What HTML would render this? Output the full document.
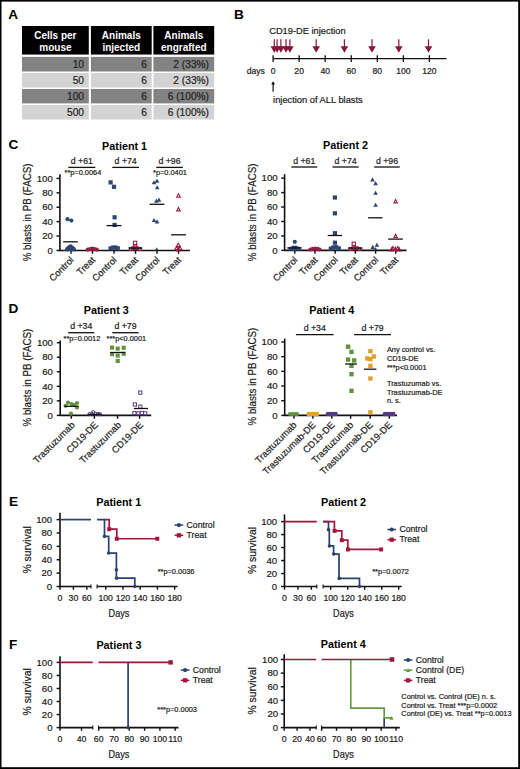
<!DOCTYPE html>
<html><head><meta charset="utf-8"><title>Figure</title>
<style>
html,body{margin:0;padding:0;background:#fff;}
body{width:520px;height:769px;overflow:hidden;}
svg{display:block;font-family:"Liberation Sans", sans-serif;}
</style></head><body>
<svg width="520" height="769" viewBox="0 0 520 769" fill="#1a1a1a">
<rect x="0" y="0" width="520" height="769" fill="#fff"/>
<rect x="0" y="0" width="520" height="1.6" fill="#000"/>
<rect x="0" y="767.2" width="520" height="1.8" fill="#000"/>
<rect x="0" y="0" width="1.5" height="769" fill="#000"/>
<rect x="518.2" y="0" width="1.8" height="769" fill="#000"/>
<text x="8.3" y="18.8" font-size="13.6" font-weight="bold" fill="#000">A</text>
<text x="234" y="18.8" font-size="13.6" font-weight="bold" fill="#000">B</text>
<text x="8.4" y="149.2" font-size="13.6" font-weight="bold" fill="#000">C</text>
<text x="8.5" y="312.8" font-size="13.6" font-weight="bold" fill="#000">D</text>
<text x="8.9" y="506.3" font-size="13.6" font-weight="bold" fill="#000">E</text>
<text x="9.1" y="648.8" font-size="13.6" font-weight="bold" fill="#000">F</text>
<rect x="22" y="26" width="66.8" height="28.55" fill="#000"/>
<rect x="90.9" y="26" width="60.8" height="28.55" fill="#000"/>
<rect x="153.4" y="26" width="60.8" height="28.55" fill="#000"/>
<text x="55.4" y="38.7" font-size="10" text-anchor="middle" font-weight="bold" fill="#fff">Cells per</text>
<text x="55.4" y="50.5" font-size="10" text-anchor="middle" font-weight="bold" fill="#fff">mouse</text>
<text x="121.3" y="38.7" font-size="10" text-anchor="middle" font-weight="bold" fill="#fff">Animals</text>
<text x="121.3" y="50.5" font-size="10" text-anchor="middle" font-weight="bold" fill="#fff">injected</text>
<text x="183.8" y="38.7" font-size="10" text-anchor="middle" font-weight="bold" fill="#fff">Animals</text>
<text x="183.8" y="50.5" font-size="10" text-anchor="middle" font-weight="bold" fill="#fff">engrafted</text>
<rect x="22" y="56.9" width="66.8" height="14.6" fill="#838383"/>
<rect x="90.9" y="56.9" width="60.8" height="14.6" fill="#838383"/>
<rect x="153.4" y="56.9" width="60.8" height="14.6" fill="#838383"/>
<text x="84" y="67.6" font-size="10.2" text-anchor="end" fill="#222" stroke="#222" stroke-width="0.2">10</text>
<text x="147" y="67.6" font-size="10.2" text-anchor="end" fill="#222" stroke="#222" stroke-width="0.2">6</text>
<text x="209" y="67.6" font-size="10.2" text-anchor="end" fill="#222" stroke="#222" stroke-width="0.2">2 (33%)</text>
<rect x="22" y="73" width="66.8" height="14.5" fill="#d3d3d3"/>
<rect x="90.9" y="73" width="60.8" height="14.5" fill="#d3d3d3"/>
<rect x="153.4" y="73" width="60.8" height="14.5" fill="#d3d3d3"/>
<text x="84" y="83.6" font-size="10.2" text-anchor="end" fill="#222" stroke="#222" stroke-width="0.2">50</text>
<text x="147" y="83.6" font-size="10.2" text-anchor="end" fill="#222" stroke="#222" stroke-width="0.2">6</text>
<text x="209" y="83.6" font-size="10.2" text-anchor="end" fill="#222" stroke="#222" stroke-width="0.2">2 (33%)</text>
<rect x="22" y="89" width="66.8" height="14.4" fill="#838383"/>
<rect x="90.9" y="89" width="60.8" height="14.4" fill="#838383"/>
<rect x="153.4" y="89" width="60.8" height="14.4" fill="#838383"/>
<text x="84" y="99.5" font-size="10.2" text-anchor="end" fill="#222" stroke="#222" stroke-width="0.2">100</text>
<text x="147" y="99.5" font-size="10.2" text-anchor="end" fill="#222" stroke="#222" stroke-width="0.2">6</text>
<text x="209" y="99.5" font-size="10.2" text-anchor="end" fill="#222" stroke="#222" stroke-width="0.2">6 (100%)</text>
<rect x="22" y="105" width="66.8" height="14.5" fill="#d3d3d3"/>
<rect x="90.9" y="105" width="60.8" height="14.5" fill="#d3d3d3"/>
<rect x="153.4" y="105" width="60.8" height="14.5" fill="#d3d3d3"/>
<text x="84" y="115.6" font-size="10.2" text-anchor="end" fill="#222" stroke="#222" stroke-width="0.2">500</text>
<text x="147" y="115.6" font-size="10.2" text-anchor="end" fill="#222" stroke="#222" stroke-width="0.2">6</text>
<text x="209" y="115.6" font-size="10.2" text-anchor="end" fill="#222" stroke="#222" stroke-width="0.2">6 (100%)</text>
<text x="269.2" y="33.5" font-size="9.3" stroke="#1a1a1a" stroke-width="0.2">CD19-DE injection</text>
<line x1="273.1" y1="58.6" x2="446.5" y2="58.6" stroke="#111" stroke-width="1.4"/>
<line x1="273.1" y1="55.2" x2="273.1" y2="62.1" stroke="#111" stroke-width="1.3"/>
<text x="273.1" y="73.5" font-size="8.6" text-anchor="middle" stroke="#1a1a1a" stroke-width="0.2">0</text>
<line x1="299.15" y1="55.2" x2="299.15" y2="62.1" stroke="#111" stroke-width="1.3"/>
<text x="299.15" y="73.5" font-size="8.6" text-anchor="middle" stroke="#1a1a1a" stroke-width="0.2">20</text>
<line x1="325.2" y1="55.2" x2="325.2" y2="62.1" stroke="#111" stroke-width="1.3"/>
<text x="325.2" y="73.5" font-size="8.6" text-anchor="middle" stroke="#1a1a1a" stroke-width="0.2">40</text>
<line x1="351.25" y1="55.2" x2="351.25" y2="62.1" stroke="#111" stroke-width="1.3"/>
<text x="351.25" y="73.5" font-size="8.6" text-anchor="middle" stroke="#1a1a1a" stroke-width="0.2">60</text>
<line x1="377.3" y1="55.2" x2="377.3" y2="62.1" stroke="#111" stroke-width="1.3"/>
<text x="377.3" y="73.5" font-size="8.6" text-anchor="middle" stroke="#1a1a1a" stroke-width="0.2">80</text>
<line x1="403.35" y1="55.2" x2="403.35" y2="62.1" stroke="#111" stroke-width="1.3"/>
<text x="403.35" y="73.5" font-size="8.6" text-anchor="middle" stroke="#1a1a1a" stroke-width="0.2">100</text>
<line x1="429.4" y1="55.2" x2="429.4" y2="62.1" stroke="#111" stroke-width="1.3"/>
<text x="429.4" y="73.5" font-size="8.6" text-anchor="middle" stroke="#1a1a1a" stroke-width="0.2">120</text>
<text x="246.7" y="73.5" font-size="8.6" stroke="#1a1a1a" stroke-width="0.2">days</text>
<line x1="274.3" y1="39.3" x2="274.3" y2="47.5" stroke="#86163a" stroke-width="1.2"/>
<polygon points="270.5,46.3 278.1,46.3 274.3,52.7" fill="#86163a"/>
<line x1="277.1" y1="39.3" x2="277.1" y2="47.5" stroke="#86163a" stroke-width="1.2"/>
<polygon points="273.3,46.3 280.9,46.3 277.1,52.7" fill="#86163a"/>
<line x1="280.9" y1="39.3" x2="280.9" y2="47.5" stroke="#86163a" stroke-width="1.2"/>
<polygon points="277.1,46.3 284.7,46.3 280.9,52.7" fill="#86163a"/>
<line x1="286" y1="39.3" x2="286" y2="47.5" stroke="#86163a" stroke-width="1.2"/>
<polygon points="282.2,46.3 289.8,46.3 286,52.7" fill="#86163a"/>
<line x1="289.9" y1="39.3" x2="289.9" y2="47.5" stroke="#86163a" stroke-width="1.2"/>
<polygon points="286.1,46.3 293.7,46.3 289.9,52.7" fill="#86163a"/>
<line x1="316.2" y1="39.3" x2="316.2" y2="47.5" stroke="#86163a" stroke-width="1.2"/>
<polygon points="312.4,46.3 320,46.3 316.2,52.7" fill="#86163a"/>
<line x1="344.4" y1="39.3" x2="344.4" y2="47.5" stroke="#86163a" stroke-width="1.2"/>
<polygon points="340.6,46.3 348.2,46.3 344.4,52.7" fill="#86163a"/>
<line x1="372" y1="39.3" x2="372" y2="47.5" stroke="#86163a" stroke-width="1.2"/>
<polygon points="368.2,46.3 375.8,46.3 372,52.7" fill="#86163a"/>
<line x1="398.8" y1="39.3" x2="398.8" y2="47.5" stroke="#86163a" stroke-width="1.2"/>
<polygon points="395,46.3 402.6,46.3 398.8,52.7" fill="#86163a"/>
<line x1="428.5" y1="39.3" x2="428.5" y2="47.5" stroke="#86163a" stroke-width="1.2"/>
<polygon points="424.7,46.3 432.3,46.3 428.5,52.7" fill="#86163a"/>
<line x1="273.1" y1="84" x2="273.1" y2="91.8" stroke="#000" stroke-width="1.1"/>
<polygon points="271.2,84.6 275,84.6 273.1,81.2" fill="#000"/>
<text x="273.1" y="103.3" font-size="9.3" stroke="#1a1a1a" stroke-width="0.2">injection of ALL blasts</text>
<text x="124.6" y="149.5" font-size="10.8" text-anchor="middle" font-weight="bold" fill="#000">Patient 1</text>
<line x1="59.9" y1="174.2" x2="59.9" y2="251.15" stroke="#111" stroke-width="1.6"/>
<line x1="56.5" y1="250.45" x2="59.9" y2="250.45" stroke="#111" stroke-width="1.45"/>
<text x="52.8" y="253.65" font-size="9.6" text-anchor="end" stroke="#1a1a1a" stroke-width="0.2">0</text>
<line x1="56.5" y1="236.05" x2="59.9" y2="236.05" stroke="#111" stroke-width="1.45"/>
<text x="52.8" y="239.25" font-size="9.6" text-anchor="end" stroke="#1a1a1a" stroke-width="0.2">20</text>
<line x1="56.5" y1="221.65" x2="59.9" y2="221.65" stroke="#111" stroke-width="1.45"/>
<text x="52.8" y="224.85" font-size="9.6" text-anchor="end" stroke="#1a1a1a" stroke-width="0.2">40</text>
<line x1="56.5" y1="207.25" x2="59.9" y2="207.25" stroke="#111" stroke-width="1.45"/>
<text x="52.8" y="210.45" font-size="9.6" text-anchor="end" stroke="#1a1a1a" stroke-width="0.2">60</text>
<line x1="56.5" y1="192.85" x2="59.9" y2="192.85" stroke="#111" stroke-width="1.45"/>
<text x="52.8" y="196.05" font-size="9.6" text-anchor="end" stroke="#1a1a1a" stroke-width="0.2">80</text>
<line x1="56.5" y1="178.45" x2="59.9" y2="178.45" stroke="#111" stroke-width="1.45"/>
<text x="52.8" y="181.65" font-size="9.6" text-anchor="end" stroke="#1a1a1a" stroke-width="0.2">100</text>
<line x1="59.9" y1="250.45" x2="190" y2="250.45" stroke="#111" stroke-width="1.6"/>
<text x="30.9" y="212.4" font-size="11.2" text-anchor="middle" textLength="97.8" lengthAdjust="spacingAndGlyphs" transform="rotate(-90 30.9 212.4)" stroke="#1a1a1a" stroke-width="0.2">% blasts in PB (FACS)</text>
<line x1="68.3" y1="167.4" x2="95.3" y2="167.4" stroke="#111" stroke-width="1.3"/>
<text x="81.8" y="163.5" font-size="8.75" text-anchor="middle" stroke="#1a1a1a" stroke-width="0.2">d +61</text>
<line x1="112.3" y1="167.4" x2="139" y2="167.4" stroke="#111" stroke-width="1.3"/>
<text x="125.65" y="163.5" font-size="8.75" text-anchor="middle" stroke="#1a1a1a" stroke-width="0.2">d +74</text>
<line x1="156.2" y1="167.4" x2="182.8" y2="167.4" stroke="#111" stroke-width="1.3"/>
<text x="169.5" y="163.5" font-size="8.75" text-anchor="middle" stroke="#1a1a1a" stroke-width="0.2">d +96</text>
<text x="64.5" y="175.4" font-size="7.4" stroke="#1a1a1a" stroke-width="0.2">**p=0.0064</text>
<text x="153" y="175.4" font-size="7.4" stroke="#1a1a1a" stroke-width="0.2">*p=0.0401</text>
<text x="74.3" y="260.6" font-size="9.35" text-anchor="end" transform="rotate(-45 74.3 260.6)" stroke="#1a1a1a" stroke-width="0.2">Control</text>
<text x="95.8" y="260.6" font-size="9.35" text-anchor="end" transform="rotate(-45 95.8 260.6)" stroke="#1a1a1a" stroke-width="0.2">Treat</text>
<text x="117.3" y="260.6" font-size="9.35" text-anchor="end" transform="rotate(-45 117.3 260.6)" stroke="#1a1a1a" stroke-width="0.2">Control</text>
<text x="138.8" y="260.6" font-size="9.35" text-anchor="end" transform="rotate(-45 138.8 260.6)" stroke="#1a1a1a" stroke-width="0.2">Treat</text>
<text x="160.3" y="260.6" font-size="9.35" text-anchor="end" transform="rotate(-45 160.3 260.6)" stroke="#1a1a1a" stroke-width="0.2">Control</text>
<text x="181.8" y="260.6" font-size="9.35" text-anchor="end" transform="rotate(-45 181.8 260.6)" stroke="#1a1a1a" stroke-width="0.2">Treat</text>
<text x="345.5" y="149.4" font-size="10.8" text-anchor="middle" font-weight="bold" fill="#000">Patient 2</text>
<line x1="284.6" y1="174.2" x2="284.6" y2="251.05" stroke="#111" stroke-width="1.6"/>
<line x1="281.2" y1="250.35" x2="284.6" y2="250.35" stroke="#111" stroke-width="1.45"/>
<text x="277.6" y="253.55" font-size="9.6" text-anchor="end" stroke="#1a1a1a" stroke-width="0.2">0</text>
<line x1="281.2" y1="235.91" x2="284.6" y2="235.91" stroke="#111" stroke-width="1.45"/>
<text x="277.6" y="239.11" font-size="9.6" text-anchor="end" stroke="#1a1a1a" stroke-width="0.2">20</text>
<line x1="281.2" y1="221.47" x2="284.6" y2="221.47" stroke="#111" stroke-width="1.45"/>
<text x="277.6" y="224.67" font-size="9.6" text-anchor="end" stroke="#1a1a1a" stroke-width="0.2">40</text>
<line x1="281.2" y1="207.03" x2="284.6" y2="207.03" stroke="#111" stroke-width="1.45"/>
<text x="277.6" y="210.23" font-size="9.6" text-anchor="end" stroke="#1a1a1a" stroke-width="0.2">60</text>
<line x1="281.2" y1="192.59" x2="284.6" y2="192.59" stroke="#111" stroke-width="1.45"/>
<text x="277.6" y="195.79" font-size="9.6" text-anchor="end" stroke="#1a1a1a" stroke-width="0.2">80</text>
<line x1="281.2" y1="178.15" x2="284.6" y2="178.15" stroke="#111" stroke-width="1.45"/>
<text x="277.6" y="181.35" font-size="9.6" text-anchor="end" stroke="#1a1a1a" stroke-width="0.2">100</text>
<line x1="284.6" y1="250.35" x2="406.5" y2="250.35" stroke="#111" stroke-width="1.6"/>
<text x="255.9" y="212.3" font-size="11.2" text-anchor="middle" textLength="97.8" lengthAdjust="spacingAndGlyphs" transform="rotate(-90 255.9 212.3)" stroke="#1a1a1a" stroke-width="0.2">% blasts in PB (FACS)</text>
<line x1="291.3" y1="167" x2="317.2" y2="167" stroke="#111" stroke-width="1.3"/>
<text x="304.25" y="163.5" font-size="8.75" text-anchor="middle" stroke="#1a1a1a" stroke-width="0.2">d +61</text>
<line x1="332.5" y1="167" x2="358.6" y2="167" stroke="#111" stroke-width="1.3"/>
<text x="345.55" y="163.5" font-size="8.75" text-anchor="middle" stroke="#1a1a1a" stroke-width="0.2">d +74</text>
<line x1="374.2" y1="167" x2="399.8" y2="167" stroke="#111" stroke-width="1.3"/>
<text x="387" y="163.5" font-size="8.75" text-anchor="middle" stroke="#1a1a1a" stroke-width="0.2">d +96</text>
<text x="298.1" y="260.6" font-size="9.35" text-anchor="end" transform="rotate(-45 298.1 260.6)" stroke="#1a1a1a" stroke-width="0.2">Control</text>
<text x="318.3" y="260.6" font-size="9.35" text-anchor="end" transform="rotate(-45 318.3 260.6)" stroke="#1a1a1a" stroke-width="0.2">Treat</text>
<text x="338.5" y="260.6" font-size="9.35" text-anchor="end" transform="rotate(-45 338.5 260.6)" stroke="#1a1a1a" stroke-width="0.2">Control</text>
<text x="358.7" y="260.6" font-size="9.35" text-anchor="end" transform="rotate(-45 358.7 260.6)" stroke="#1a1a1a" stroke-width="0.2">Treat</text>
<text x="378.9" y="260.6" font-size="9.35" text-anchor="end" transform="rotate(-45 378.9 260.6)" stroke="#1a1a1a" stroke-width="0.2">Control</text>
<text x="399.1" y="260.6" font-size="9.35" text-anchor="end" transform="rotate(-45 399.1 260.6)" stroke="#1a1a1a" stroke-width="0.2">Treat</text>
<text x="106.3" y="313.5" font-size="10.8" text-anchor="middle" font-weight="bold" fill="#000">Patient 3</text>
<line x1="60.2" y1="340.4" x2="60.2" y2="416.1" stroke="#111" stroke-width="1.6"/>
<line x1="56.8" y1="415.4" x2="60.2" y2="415.4" stroke="#111" stroke-width="1.45"/>
<text x="52.9" y="418.6" font-size="9.6" text-anchor="end" stroke="#1a1a1a" stroke-width="0.2">0</text>
<line x1="56.8" y1="400.86" x2="60.2" y2="400.86" stroke="#111" stroke-width="1.45"/>
<text x="52.9" y="404.06" font-size="9.6" text-anchor="end" stroke="#1a1a1a" stroke-width="0.2">20</text>
<line x1="56.8" y1="386.32" x2="60.2" y2="386.32" stroke="#111" stroke-width="1.45"/>
<text x="52.9" y="389.52" font-size="9.6" text-anchor="end" stroke="#1a1a1a" stroke-width="0.2">40</text>
<line x1="56.8" y1="371.78" x2="60.2" y2="371.78" stroke="#111" stroke-width="1.45"/>
<text x="52.9" y="374.98" font-size="9.6" text-anchor="end" stroke="#1a1a1a" stroke-width="0.2">60</text>
<line x1="56.8" y1="357.24" x2="60.2" y2="357.24" stroke="#111" stroke-width="1.45"/>
<text x="52.9" y="360.44" font-size="9.6" text-anchor="end" stroke="#1a1a1a" stroke-width="0.2">80</text>
<line x1="56.8" y1="342.7" x2="60.2" y2="342.7" stroke="#111" stroke-width="1.45"/>
<text x="52.9" y="345.9" font-size="9.6" text-anchor="end" stroke="#1a1a1a" stroke-width="0.2">100</text>
<line x1="60.2" y1="415.4" x2="151.2" y2="415.4" stroke="#111" stroke-width="1.6"/>
<text x="30.9" y="377.6" font-size="11.2" text-anchor="middle" textLength="97.8" lengthAdjust="spacingAndGlyphs" transform="rotate(-90 30.9 377.6)" stroke="#1a1a1a" stroke-width="0.2">% blasts in PB (FACS)</text>
<line x1="68.1" y1="332.7" x2="94.4" y2="332.7" stroke="#111" stroke-width="1.3"/>
<text x="81.25" y="329" font-size="8.75" text-anchor="middle" stroke="#1a1a1a" stroke-width="0.2">d +34</text>
<line x1="112.3" y1="332.7" x2="138.7" y2="332.7" stroke="#111" stroke-width="1.3"/>
<text x="125.5" y="329" font-size="8.75" text-anchor="middle" stroke="#1a1a1a" stroke-width="0.2">d +79</text>
<text x="63.5" y="341.2" font-size="7.4" stroke="#1a1a1a" stroke-width="0.2">**p=0.0012</text>
<text x="106.5" y="341" font-size="7.4" stroke="#1a1a1a" stroke-width="0.2">***p&lt;0.0001</text>
<text x="75.4" y="425.6" font-size="9.35" text-anchor="end" transform="rotate(-45 75.4 425.6)" stroke="#1a1a1a" stroke-width="0.2">Trastuzumab</text>
<text x="98.5" y="425.6" font-size="9.35" text-anchor="end" transform="rotate(-45 98.5 425.6)" stroke="#1a1a1a" stroke-width="0.2">CD19-DE</text>
<text x="121.6" y="425.6" font-size="9.35" text-anchor="end" transform="rotate(-45 121.6 425.6)" stroke="#1a1a1a" stroke-width="0.2">Trastuzumab</text>
<text x="143.7" y="425.6" font-size="9.35" text-anchor="end" transform="rotate(-45 143.7 425.6)" stroke="#1a1a1a" stroke-width="0.2">CD19-DE</text>
<text x="331.7" y="313.5" font-size="10.8" text-anchor="middle" font-weight="bold" fill="#000">Patient 4</text>
<line x1="284.7" y1="338.6" x2="284.7" y2="416.1" stroke="#111" stroke-width="1.6"/>
<line x1="281.3" y1="415.4" x2="284.7" y2="415.4" stroke="#111" stroke-width="1.45"/>
<text x="277.6" y="418.6" font-size="9.6" text-anchor="end" stroke="#1a1a1a" stroke-width="0.2">0</text>
<line x1="281.3" y1="400.72" x2="284.7" y2="400.72" stroke="#111" stroke-width="1.45"/>
<text x="277.6" y="403.92" font-size="9.6" text-anchor="end" stroke="#1a1a1a" stroke-width="0.2">20</text>
<line x1="281.3" y1="386.04" x2="284.7" y2="386.04" stroke="#111" stroke-width="1.45"/>
<text x="277.6" y="389.24" font-size="9.6" text-anchor="end" stroke="#1a1a1a" stroke-width="0.2">40</text>
<line x1="281.3" y1="371.36" x2="284.7" y2="371.36" stroke="#111" stroke-width="1.45"/>
<text x="277.6" y="374.56" font-size="9.6" text-anchor="end" stroke="#1a1a1a" stroke-width="0.2">60</text>
<line x1="281.3" y1="356.68" x2="284.7" y2="356.68" stroke="#111" stroke-width="1.45"/>
<text x="277.6" y="359.88" font-size="9.6" text-anchor="end" stroke="#1a1a1a" stroke-width="0.2">80</text>
<line x1="281.3" y1="342" x2="284.7" y2="342" stroke="#111" stroke-width="1.45"/>
<text x="277.6" y="345.2" font-size="9.6" text-anchor="end" stroke="#1a1a1a" stroke-width="0.2">100</text>
<line x1="284.7" y1="415.4" x2="397" y2="415.4" stroke="#111" stroke-width="1.6"/>
<text x="255.9" y="376.6" font-size="11.2" text-anchor="middle" textLength="97.8" lengthAdjust="spacingAndGlyphs" transform="rotate(-90 255.9 376.6)" stroke="#1a1a1a" stroke-width="0.2">% blasts in PB (FACS)</text>
<line x1="295.9" y1="334.6" x2="333.6" y2="334.6" stroke="#111" stroke-width="1.3"/>
<text x="314.75" y="330.6" font-size="8.75" text-anchor="middle" stroke="#1a1a1a" stroke-width="0.2">d +34</text>
<line x1="354.1" y1="334.6" x2="391" y2="334.6" stroke="#111" stroke-width="1.3"/>
<text x="372.55" y="330.6" font-size="8.75" text-anchor="middle" stroke="#1a1a1a" stroke-width="0.2">d +79</text>
<text x="297.3" y="425.6" font-size="9.35" text-anchor="end" transform="rotate(-45 297.3 425.6)" stroke="#1a1a1a" stroke-width="0.2">Trastuzumab</text>
<text x="316.2" y="425.6" font-size="9.35" text-anchor="end" transform="rotate(-45 316.2 425.6)" stroke="#1a1a1a" stroke-width="0.2">Trastuzumab-DE</text>
<text x="335.1" y="425.6" font-size="9.35" text-anchor="end" transform="rotate(-45 335.1 425.6)" stroke="#1a1a1a" stroke-width="0.2">CD19-DE</text>
<text x="353.9" y="425.6" font-size="9.35" text-anchor="end" transform="rotate(-45 353.9 425.6)" stroke="#1a1a1a" stroke-width="0.2">Trastuzumab</text>
<text x="373.5" y="425.6" font-size="9.35" text-anchor="end" transform="rotate(-45 373.5 425.6)" stroke="#1a1a1a" stroke-width="0.2">Trastuzumab-DE</text>
<text x="392.6" y="425.6" font-size="9.35" text-anchor="end" transform="rotate(-45 392.6 425.6)" stroke="#1a1a1a" stroke-width="0.2">CD19-DE</text>
<text x="386.9" y="351.9" font-size="7.4" stroke="#1a1a1a" stroke-width="0.2">Any control vs.</text>
<text x="386.9" y="360.7" font-size="7.4" stroke="#1a1a1a" stroke-width="0.2">CD19-DE</text>
<text x="386.9" y="369.5" font-size="7.4" stroke="#1a1a1a" stroke-width="0.2">***p&lt;0.0001</text>
<text x="386.9" y="386" font-size="7.4" stroke="#1a1a1a" stroke-width="0.2">Trastuzumab vs.</text>
<text x="386.9" y="394.7" font-size="7.4" stroke="#1a1a1a" stroke-width="0.2">Trastuzumab-DE</text>
<text x="386.9" y="403.4" font-size="7.4" stroke="#1a1a1a" stroke-width="0.2">n. s.</text>
<text x="118.7" y="506.4" font-size="10.8" text-anchor="middle" font-weight="bold" fill="#000">Patient 1</text>
<line x1="60" y1="512.8" x2="60" y2="587.2" stroke="#111" stroke-width="1.6"/>
<line x1="56.6" y1="586.5" x2="60" y2="586.5" stroke="#111" stroke-width="1.45"/>
<text x="52.2" y="589.7" font-size="9.6" text-anchor="end" stroke="#1a1a1a" stroke-width="0.2">0</text>
<line x1="56.6" y1="573.12" x2="60" y2="573.12" stroke="#111" stroke-width="1.45"/>
<text x="52.2" y="576.32" font-size="9.6" text-anchor="end" stroke="#1a1a1a" stroke-width="0.2">20</text>
<line x1="56.6" y1="559.74" x2="60" y2="559.74" stroke="#111" stroke-width="1.45"/>
<text x="52.2" y="562.94" font-size="9.6" text-anchor="end" stroke="#1a1a1a" stroke-width="0.2">40</text>
<line x1="56.6" y1="546.36" x2="60" y2="546.36" stroke="#111" stroke-width="1.45"/>
<text x="52.2" y="549.56" font-size="9.6" text-anchor="end" stroke="#1a1a1a" stroke-width="0.2">60</text>
<line x1="56.6" y1="532.98" x2="60" y2="532.98" stroke="#111" stroke-width="1.45"/>
<text x="52.2" y="536.18" font-size="9.6" text-anchor="end" stroke="#1a1a1a" stroke-width="0.2">80</text>
<line x1="56.6" y1="519.6" x2="60" y2="519.6" stroke="#111" stroke-width="1.45"/>
<text x="52.2" y="522.8" font-size="9.6" text-anchor="end" stroke="#1a1a1a" stroke-width="0.2">100</text>
<line x1="60" y1="586.5" x2="91" y2="586.5" stroke="#111" stroke-width="1.6"/>
<line x1="91" y1="584.5" x2="91" y2="588.5" stroke="#111" stroke-width="1.1"/>
<line x1="97.1" y1="586.5" x2="177.5" y2="586.5" stroke="#111" stroke-width="1.6"/>
<line x1="97.1" y1="584.5" x2="97.1" y2="588.5" stroke="#111" stroke-width="1.1"/>
<line x1="60" y1="586.5" x2="60" y2="589.7" stroke="#111" stroke-width="1.4"/>
<text x="60" y="600.8" font-size="8.7" text-anchor="middle" stroke="#1a1a1a" stroke-width="0.2">0</text>
<line x1="73.41" y1="586.5" x2="73.41" y2="589.7" stroke="#111" stroke-width="1.4"/>
<text x="73.41" y="600.8" font-size="8.7" text-anchor="middle" stroke="#1a1a1a" stroke-width="0.2">30</text>
<line x1="86.82" y1="586.5" x2="86.82" y2="589.7" stroke="#111" stroke-width="1.4"/>
<text x="86.82" y="600.8" font-size="8.7" text-anchor="middle" stroke="#1a1a1a" stroke-width="0.2">60</text>
<line x1="105.7" y1="586.5" x2="105.7" y2="589.7" stroke="#111" stroke-width="1.4"/>
<text x="105.7" y="600.8" font-size="8.7" text-anchor="middle" stroke="#1a1a1a" stroke-width="0.2">100</text>
<line x1="122.94" y1="586.5" x2="122.94" y2="589.7" stroke="#111" stroke-width="1.4"/>
<text x="122.94" y="600.8" font-size="8.7" text-anchor="middle" stroke="#1a1a1a" stroke-width="0.2">120</text>
<line x1="140.18" y1="586.5" x2="140.18" y2="589.7" stroke="#111" stroke-width="1.4"/>
<text x="140.18" y="600.8" font-size="8.7" text-anchor="middle" stroke="#1a1a1a" stroke-width="0.2">140</text>
<line x1="157.42" y1="586.5" x2="157.42" y2="589.7" stroke="#111" stroke-width="1.4"/>
<text x="157.42" y="600.8" font-size="8.7" text-anchor="middle" stroke="#1a1a1a" stroke-width="0.2">160</text>
<line x1="174.66" y1="586.5" x2="174.66" y2="589.7" stroke="#111" stroke-width="1.4"/>
<text x="174.66" y="600.8" font-size="8.7" text-anchor="middle" stroke="#1a1a1a" stroke-width="0.2">180</text>
<text x="119" y="616.9" font-size="10.3" text-anchor="middle" textLength="20.8" lengthAdjust="spacingAndGlyphs" stroke="#1a1a1a" stroke-width="0.2">Days</text>
<text x="30.9" y="549.9" font-size="10.7" text-anchor="middle" textLength="47.2" lengthAdjust="spacingAndGlyphs" transform="rotate(-90 30.9 549.9)" stroke="#1a1a1a" stroke-width="0.2">% survival</text>
<polyline points="60,519.6 91,519.6" fill="none" stroke="#2b416f" stroke-width="1.7" stroke-linejoin="miter"/>
<polyline points="97.1,519.6 104.5,519.6 104.5,536.33 108.7,536.33 108.7,553.05 116.4,553.05 116.4,578.14 134.8,578.14 134.8,586.5" fill="none" stroke="#2b416f" stroke-width="1.7" stroke-linejoin="miter"/>
<polyline points="104.5,519.6 109.2,519.6 109.2,529.17 116.8,529.17 116.8,538.73 157.3,538.73" fill="none" stroke="#a3163c" stroke-width="1.7" stroke-linejoin="miter"/>
<circle cx="104.5" cy="536.33" r="1.8" fill="#2b416f"/>
<circle cx="108.7" cy="553.05" r="1.8" fill="#2b416f"/>
<circle cx="116.4" cy="569.77" r="1.8" fill="#2b416f"/>
<circle cx="116.6" cy="578.14" r="1.8" fill="#2b416f"/>
<circle cx="134.8" cy="586.5" r="1.8" fill="#2b416f"/>
<rect x="107.2" y="527.17" width="4" height="4" fill="#a3163c"/>
<rect x="114.8" y="536.73" width="4" height="4" fill="#a3163c"/>
<rect x="155.3" y="536.73" width="4" height="4" fill="#a3163c"/>
<line x1="174.6" y1="525.1" x2="183.2" y2="525.1" stroke="#2b416f" stroke-width="1.5"/>
<circle cx="178.9" cy="525.1" r="2.1" fill="#2b416f"/>
<text x="186.6" y="527.8" font-size="8.7" stroke="#1a1a1a" stroke-width="0.2">Control</text>
<line x1="174.6" y1="535.3" x2="183.2" y2="535.3" stroke="#a3163c" stroke-width="1.5"/>
<rect x="176.75" y="533.15" width="4.3" height="4.3" fill="#a3163c"/>
<text x="186.6" y="538" font-size="8.7" stroke="#1a1a1a" stroke-width="0.2">Treat</text>
<text x="157.7" y="574.2" font-size="7.4" stroke="#1a1a1a" stroke-width="0.2">**p=0.0036</text>
<text x="343.5" y="506.4" font-size="10.8" text-anchor="middle" font-weight="bold" fill="#000">Patient 2</text>
<line x1="284.5" y1="514.4" x2="284.5" y2="587.2" stroke="#111" stroke-width="1.6"/>
<line x1="281.1" y1="586.5" x2="284.5" y2="586.5" stroke="#111" stroke-width="1.45"/>
<text x="277.2" y="589.7" font-size="9.6" text-anchor="end" stroke="#1a1a1a" stroke-width="0.2">0</text>
<line x1="281.1" y1="573.52" x2="284.5" y2="573.52" stroke="#111" stroke-width="1.45"/>
<text x="277.2" y="576.72" font-size="9.6" text-anchor="end" stroke="#1a1a1a" stroke-width="0.2">20</text>
<line x1="281.1" y1="560.54" x2="284.5" y2="560.54" stroke="#111" stroke-width="1.45"/>
<text x="277.2" y="563.74" font-size="9.6" text-anchor="end" stroke="#1a1a1a" stroke-width="0.2">40</text>
<line x1="281.1" y1="547.56" x2="284.5" y2="547.56" stroke="#111" stroke-width="1.45"/>
<text x="277.2" y="550.76" font-size="9.6" text-anchor="end" stroke="#1a1a1a" stroke-width="0.2">60</text>
<line x1="281.1" y1="534.58" x2="284.5" y2="534.58" stroke="#111" stroke-width="1.45"/>
<text x="277.2" y="537.78" font-size="9.6" text-anchor="end" stroke="#1a1a1a" stroke-width="0.2">80</text>
<line x1="281.1" y1="521.6" x2="284.5" y2="521.6" stroke="#111" stroke-width="1.45"/>
<text x="277.2" y="524.8" font-size="9.6" text-anchor="end" stroke="#1a1a1a" stroke-width="0.2">100</text>
<line x1="284.5" y1="586.5" x2="316.8" y2="586.5" stroke="#111" stroke-width="1.6"/>
<line x1="316.8" y1="584.5" x2="316.8" y2="588.5" stroke="#111" stroke-width="1.1"/>
<line x1="323.1" y1="586.5" x2="401.7" y2="586.5" stroke="#111" stroke-width="1.6"/>
<line x1="323.1" y1="584.5" x2="323.1" y2="588.5" stroke="#111" stroke-width="1.1"/>
<line x1="284.5" y1="586.5" x2="284.5" y2="589.7" stroke="#111" stroke-width="1.4"/>
<text x="284.5" y="600.8" font-size="8.7" text-anchor="middle" stroke="#1a1a1a" stroke-width="0.2">0</text>
<line x1="297.91" y1="586.5" x2="297.91" y2="589.7" stroke="#111" stroke-width="1.4"/>
<text x="297.91" y="600.8" font-size="8.7" text-anchor="middle" stroke="#1a1a1a" stroke-width="0.2">30</text>
<line x1="311.32" y1="586.5" x2="311.32" y2="589.7" stroke="#111" stroke-width="1.4"/>
<text x="311.32" y="600.8" font-size="8.7" text-anchor="middle" stroke="#1a1a1a" stroke-width="0.2">60</text>
<line x1="330.7" y1="586.5" x2="330.7" y2="589.7" stroke="#111" stroke-width="1.4"/>
<text x="330.7" y="600.8" font-size="8.7" text-anchor="middle" stroke="#1a1a1a" stroke-width="0.2">100</text>
<line x1="347.7" y1="586.5" x2="347.7" y2="589.7" stroke="#111" stroke-width="1.4"/>
<text x="347.7" y="600.8" font-size="8.7" text-anchor="middle" stroke="#1a1a1a" stroke-width="0.2">120</text>
<line x1="364.7" y1="586.5" x2="364.7" y2="589.7" stroke="#111" stroke-width="1.4"/>
<text x="364.7" y="600.8" font-size="8.7" text-anchor="middle" stroke="#1a1a1a" stroke-width="0.2">140</text>
<line x1="381.7" y1="586.5" x2="381.7" y2="589.7" stroke="#111" stroke-width="1.4"/>
<text x="381.7" y="600.8" font-size="8.7" text-anchor="middle" stroke="#1a1a1a" stroke-width="0.2">160</text>
<line x1="398.7" y1="586.5" x2="398.7" y2="589.7" stroke="#111" stroke-width="1.4"/>
<text x="398.7" y="600.8" font-size="8.7" text-anchor="middle" stroke="#1a1a1a" stroke-width="0.2">180</text>
<text x="343.5" y="616.9" font-size="10.3" text-anchor="middle" textLength="20.8" lengthAdjust="spacingAndGlyphs" stroke="#1a1a1a" stroke-width="0.2">Days</text>
<text x="256.4" y="550.5" font-size="10.7" text-anchor="middle" textLength="47.2" lengthAdjust="spacingAndGlyphs" transform="rotate(-90 256.4 550.5)" stroke="#1a1a1a" stroke-width="0.2">% survival</text>
<polyline points="284.5,521.6 316.8,521.6" fill="none" stroke="#a3163c" stroke-width="1.7" stroke-linejoin="miter"/>
<polyline points="323.1,521.6 328.5,521.6 328.5,529.71 329.3,529.71 329.3,545.94 333.6,545.94 333.6,554.05 339,554.05 339,578.39 359.5,578.39 359.5,586.5" fill="none" stroke="#2b416f" stroke-width="1.7" stroke-linejoin="miter"/>
<polyline points="323.1,521.6 334.4,521.6 334.4,530.88 341.8,530.88 341.8,540.16 347.8,540.16 347.8,549.44 381.1,549.44" fill="none" stroke="#a3163c" stroke-width="1.7" stroke-linejoin="miter"/>
<circle cx="328.5" cy="529.71" r="1.8" fill="#2b416f"/>
<circle cx="329.5" cy="545.94" r="1.8" fill="#2b416f"/>
<circle cx="333.8" cy="554.05" r="1.8" fill="#2b416f"/>
<circle cx="339.2" cy="578.39" r="1.8" fill="#2b416f"/>
<circle cx="359.5" cy="586.5" r="1.8" fill="#2b416f"/>
<rect x="332.6" y="528.88" width="4" height="4" fill="#a3163c"/>
<rect x="339.8" y="538.16" width="4" height="4" fill="#a3163c"/>
<rect x="346" y="547.44" width="4" height="4" fill="#a3163c"/>
<rect x="379.1" y="547.44" width="4" height="4" fill="#a3163c"/>
<line x1="387.4" y1="529.5" x2="396" y2="529.5" stroke="#2b416f" stroke-width="1.5"/>
<circle cx="391.7" cy="529.5" r="2.1" fill="#2b416f"/>
<text x="399.4" y="532.2" font-size="8.7" stroke="#1a1a1a" stroke-width="0.2">Control</text>
<line x1="387.4" y1="539.7" x2="396" y2="539.7" stroke="#a3163c" stroke-width="1.5"/>
<rect x="389.55" y="537.55" width="4.3" height="4.3" fill="#a3163c"/>
<text x="399.4" y="542.4" font-size="8.7" stroke="#1a1a1a" stroke-width="0.2">Treat</text>
<text x="372.2" y="573.7" font-size="7.4" stroke="#1a1a1a" stroke-width="0.2">**p=0.0072</text>
<text x="118.9" y="649.2" font-size="10.8" text-anchor="middle" font-weight="bold" fill="#000">Patient 3</text>
<line x1="60" y1="656.2" x2="60" y2="728.3" stroke="#111" stroke-width="1.6"/>
<line x1="56.6" y1="727.6" x2="60" y2="727.6" stroke="#111" stroke-width="1.45"/>
<text x="52.5" y="730.8" font-size="9.6" text-anchor="end" stroke="#1a1a1a" stroke-width="0.2">0</text>
<line x1="56.6" y1="714.56" x2="60" y2="714.56" stroke="#111" stroke-width="1.45"/>
<text x="52.5" y="717.76" font-size="9.6" text-anchor="end" stroke="#1a1a1a" stroke-width="0.2">20</text>
<line x1="56.6" y1="701.52" x2="60" y2="701.52" stroke="#111" stroke-width="1.45"/>
<text x="52.5" y="704.72" font-size="9.6" text-anchor="end" stroke="#1a1a1a" stroke-width="0.2">40</text>
<line x1="56.6" y1="688.48" x2="60" y2="688.48" stroke="#111" stroke-width="1.45"/>
<text x="52.5" y="691.68" font-size="9.6" text-anchor="end" stroke="#1a1a1a" stroke-width="0.2">60</text>
<line x1="56.6" y1="675.44" x2="60" y2="675.44" stroke="#111" stroke-width="1.45"/>
<text x="52.5" y="678.64" font-size="9.6" text-anchor="end" stroke="#1a1a1a" stroke-width="0.2">80</text>
<line x1="56.6" y1="662.4" x2="60" y2="662.4" stroke="#111" stroke-width="1.45"/>
<text x="52.5" y="665.6" font-size="9.6" text-anchor="end" stroke="#1a1a1a" stroke-width="0.2">100</text>
<line x1="60" y1="727.6" x2="92.8" y2="727.6" stroke="#111" stroke-width="1.6"/>
<line x1="92.8" y1="725.6" x2="92.8" y2="729.6" stroke="#111" stroke-width="1.1"/>
<line x1="98.5" y1="727.6" x2="178.5" y2="727.6" stroke="#111" stroke-width="1.6"/>
<line x1="98.5" y1="725.6" x2="98.5" y2="729.6" stroke="#111" stroke-width="1.1"/>
<line x1="60" y1="727.6" x2="60" y2="730.8" stroke="#111" stroke-width="1.4"/>
<text x="60" y="741.9" font-size="8.7" text-anchor="middle" stroke="#1a1a1a" stroke-width="0.2">0</text>
<line x1="81.52" y1="727.6" x2="81.52" y2="730.8" stroke="#111" stroke-width="1.4"/>
<text x="81.52" y="741.9" font-size="8.7" text-anchor="middle" stroke="#1a1a1a" stroke-width="0.2">40</text>
<line x1="98.7" y1="727.6" x2="98.7" y2="730.8" stroke="#111" stroke-width="1.4"/>
<text x="98.7" y="741.9" font-size="8.7" text-anchor="middle" stroke="#1a1a1a" stroke-width="0.2">60</text>
<line x1="114" y1="727.6" x2="114" y2="730.8" stroke="#111" stroke-width="1.4"/>
<text x="114" y="741.9" font-size="8.7" text-anchor="middle" stroke="#1a1a1a" stroke-width="0.2">70</text>
<line x1="129.3" y1="727.6" x2="129.3" y2="730.8" stroke="#111" stroke-width="1.4"/>
<text x="129.3" y="741.9" font-size="8.7" text-anchor="middle" stroke="#1a1a1a" stroke-width="0.2">80</text>
<line x1="144.6" y1="727.6" x2="144.6" y2="730.8" stroke="#111" stroke-width="1.4"/>
<text x="144.6" y="741.9" font-size="8.7" text-anchor="middle" stroke="#1a1a1a" stroke-width="0.2">90</text>
<line x1="159.9" y1="727.6" x2="159.9" y2="730.8" stroke="#111" stroke-width="1.4"/>
<text x="159.9" y="741.9" font-size="8.7" text-anchor="middle" stroke="#1a1a1a" stroke-width="0.2">100</text>
<line x1="175.2" y1="727.6" x2="175.2" y2="730.8" stroke="#111" stroke-width="1.4"/>
<text x="175.2" y="741.9" font-size="8.7" text-anchor="middle" stroke="#1a1a1a" stroke-width="0.2">110</text>
<text x="118.9" y="758" font-size="10.3" text-anchor="middle" textLength="20.8" lengthAdjust="spacingAndGlyphs" stroke="#1a1a1a" stroke-width="0.2">Days</text>
<text x="30.9" y="691.8" font-size="10.7" text-anchor="middle" textLength="47.2" lengthAdjust="spacingAndGlyphs" transform="rotate(-90 30.9 691.8)" stroke="#1a1a1a" stroke-width="0.2">% survival</text>
<polyline points="60,662.4 92.8,662.4" fill="none" stroke="#a3163c" stroke-width="1.7" stroke-linejoin="miter"/>
<polyline points="128.1,662.4 128.1,727.6" fill="none" stroke="#2b416f" stroke-width="1.7" stroke-linejoin="miter"/>
<polyline points="98.5,662.4 170.6,662.4" fill="none" stroke="#a3163c" stroke-width="1.7" stroke-linejoin="miter"/>
<circle cx="128.1" cy="727.6" r="1.8" fill="#2b416f"/>
<rect x="168.4" y="660.2" width="4.4" height="4.4" fill="#a3163c"/>
<line x1="180.8" y1="670.1" x2="189.4" y2="670.1" stroke="#2b416f" stroke-width="1.5"/>
<circle cx="185.1" cy="670.1" r="2.1" fill="#2b416f"/>
<text x="192.8" y="672.8" font-size="8.7" stroke="#1a1a1a" stroke-width="0.2">Control</text>
<line x1="180.8" y1="680.3" x2="189.4" y2="680.3" stroke="#a3163c" stroke-width="1.5"/>
<rect x="182.95" y="678.15" width="4.3" height="4.3" fill="#a3163c"/>
<text x="192.8" y="683" font-size="8.7" stroke="#1a1a1a" stroke-width="0.2">Treat</text>
<text x="157.3" y="712.3" font-size="7.4" stroke="#1a1a1a" stroke-width="0.2">***p=0.0003</text>
<text x="343.3" y="647.7" font-size="10.8" text-anchor="middle" font-weight="bold" fill="#000">Patient 4</text>
<line x1="284.2" y1="654.2" x2="284.2" y2="728.3" stroke="#111" stroke-width="1.6"/>
<line x1="280.8" y1="727.6" x2="284.2" y2="727.6" stroke="#111" stroke-width="1.45"/>
<text x="278.1" y="730.8" font-size="9.6" text-anchor="end" stroke="#1a1a1a" stroke-width="0.2">0</text>
<line x1="280.8" y1="713.98" x2="284.2" y2="713.98" stroke="#111" stroke-width="1.45"/>
<text x="278.1" y="717.18" font-size="9.6" text-anchor="end" stroke="#1a1a1a" stroke-width="0.2">20</text>
<line x1="280.8" y1="700.36" x2="284.2" y2="700.36" stroke="#111" stroke-width="1.45"/>
<text x="278.1" y="703.56" font-size="9.6" text-anchor="end" stroke="#1a1a1a" stroke-width="0.2">40</text>
<line x1="280.8" y1="686.74" x2="284.2" y2="686.74" stroke="#111" stroke-width="1.45"/>
<text x="278.1" y="689.94" font-size="9.6" text-anchor="end" stroke="#1a1a1a" stroke-width="0.2">60</text>
<line x1="280.8" y1="673.12" x2="284.2" y2="673.12" stroke="#111" stroke-width="1.45"/>
<text x="278.1" y="676.32" font-size="9.6" text-anchor="end" stroke="#1a1a1a" stroke-width="0.2">80</text>
<line x1="280.8" y1="659.5" x2="284.2" y2="659.5" stroke="#111" stroke-width="1.45"/>
<text x="278.1" y="662.7" font-size="9.6" text-anchor="end" stroke="#1a1a1a" stroke-width="0.2">100</text>
<line x1="284.2" y1="727.6" x2="316.2" y2="727.6" stroke="#111" stroke-width="1.6"/>
<line x1="316.2" y1="725.6" x2="316.2" y2="729.6" stroke="#111" stroke-width="1.1"/>
<line x1="321.6" y1="727.6" x2="399.8" y2="727.6" stroke="#111" stroke-width="1.6"/>
<line x1="321.6" y1="725.6" x2="321.6" y2="729.6" stroke="#111" stroke-width="1.1"/>
<line x1="284.2" y1="727.6" x2="284.2" y2="730.8" stroke="#111" stroke-width="1.4"/>
<text x="284.2" y="741.9" font-size="8.7" text-anchor="middle" stroke="#1a1a1a" stroke-width="0.2">0</text>
<line x1="297.1" y1="727.6" x2="297.1" y2="730.8" stroke="#111" stroke-width="1.4"/>
<text x="297.1" y="741.9" font-size="8.7" text-anchor="middle" stroke="#1a1a1a" stroke-width="0.2">20</text>
<line x1="310" y1="727.6" x2="310" y2="730.8" stroke="#111" stroke-width="1.4"/>
<text x="310" y="741.9" font-size="8.7" text-anchor="middle" stroke="#1a1a1a" stroke-width="0.2">40</text>
<line x1="321.6" y1="727.6" x2="321.6" y2="730.8" stroke="#111" stroke-width="1.4"/>
<text x="321.6" y="741.9" font-size="8.7" text-anchor="middle" stroke="#1a1a1a" stroke-width="0.2">60</text>
<line x1="336.5" y1="727.6" x2="336.5" y2="730.8" stroke="#111" stroke-width="1.4"/>
<text x="336.5" y="741.9" font-size="8.7" text-anchor="middle" stroke="#1a1a1a" stroke-width="0.2">70</text>
<line x1="351.4" y1="727.6" x2="351.4" y2="730.8" stroke="#111" stroke-width="1.4"/>
<text x="351.4" y="741.9" font-size="8.7" text-anchor="middle" stroke="#1a1a1a" stroke-width="0.2">80</text>
<line x1="366.3" y1="727.6" x2="366.3" y2="730.8" stroke="#111" stroke-width="1.4"/>
<text x="366.3" y="741.9" font-size="8.7" text-anchor="middle" stroke="#1a1a1a" stroke-width="0.2">90</text>
<line x1="381.2" y1="727.6" x2="381.2" y2="730.8" stroke="#111" stroke-width="1.4"/>
<text x="381.2" y="741.9" font-size="8.7" text-anchor="middle" stroke="#1a1a1a" stroke-width="0.2">100</text>
<line x1="396.1" y1="727.6" x2="396.1" y2="730.8" stroke="#111" stroke-width="1.4"/>
<text x="396.1" y="741.9" font-size="8.7" text-anchor="middle" stroke="#1a1a1a" stroke-width="0.2">110</text>
<text x="343.5" y="758" font-size="10.3" text-anchor="middle" textLength="20.8" lengthAdjust="spacingAndGlyphs" stroke="#1a1a1a" stroke-width="0.2">Days</text>
<text x="256.2" y="690.9" font-size="10.7" text-anchor="middle" textLength="47.2" lengthAdjust="spacingAndGlyphs" transform="rotate(-90 256.2 690.9)" stroke="#1a1a1a" stroke-width="0.2">% survival</text>
<polyline points="384.2,717.86 384.2,727.6" fill="none" stroke="#2b416f" stroke-width="1.7" stroke-linejoin="miter"/>
<polyline points="350.8,659.5 350.8,708.12 384.2,708.12 384.2,717.86 392.5,717.86" fill="none" stroke="#6a9c45" stroke-width="1.7" stroke-linejoin="miter"/>
<polygon points="391.5,715.97 393.6,719.75 389.4,719.75" fill="#6a9c45"/>
<polyline points="284.2,659.5 316.2,659.5" fill="none" stroke="#a3163c" stroke-width="1.7" stroke-linejoin="miter"/>
<polyline points="321.6,659.5 392,659.5" fill="none" stroke="#a3163c" stroke-width="1.7" stroke-linejoin="miter"/>
<rect x="389.7" y="657.2" width="4.6" height="4.6" fill="#a3163c"/>
<line x1="403.8" y1="660" x2="412.4" y2="660" stroke="#2b416f" stroke-width="1.5"/>
<circle cx="408.1" cy="660" r="2.1" fill="#2b416f"/>
<text x="415.8" y="662.7" font-size="8.7" stroke="#1a1a1a" stroke-width="0.2">Control</text>
<line x1="403.8" y1="670.2" x2="412.4" y2="670.2" stroke="#6a9c45" stroke-width="1.5"/>
<polygon points="408.1,668.31 410.2,672.09 406,672.09" fill="#6a9c45"/>
<text x="415.8" y="672.9" font-size="8.7" stroke="#1a1a1a" stroke-width="0.2">Control (DE)</text>
<line x1="403.8" y1="680.4" x2="412.4" y2="680.4" stroke="#a3163c" stroke-width="1.5"/>
<rect x="405.95" y="678.25" width="4.3" height="4.3" fill="#a3163c"/>
<text x="415.8" y="683.1" font-size="8.7" stroke="#1a1a1a" stroke-width="0.2">Treat</text>
<text x="401.3" y="698.8" font-size="7.4" stroke="#1a1a1a" stroke-width="0.2">Control vs. Control (DE) n. s.</text>
<text x="401.3" y="708" font-size="7.4" stroke="#1a1a1a" stroke-width="0.2">Control vs. Treat ***p=0.0002</text>
<text x="401.3" y="716.3" font-size="7.4" stroke="#1a1a1a" stroke-width="0.2">Control (DE) vs. Treat **p=0.0013</text>
<line x1="71" y1="250.45" x2="71" y2="253.85" stroke="#111" stroke-width="1.4"/>
<line x1="92.5" y1="250.45" x2="92.5" y2="253.85" stroke="#111" stroke-width="1.4"/>
<line x1="114" y1="250.45" x2="114" y2="253.85" stroke="#111" stroke-width="1.4"/>
<line x1="135.5" y1="250.45" x2="135.5" y2="253.85" stroke="#111" stroke-width="1.4"/>
<line x1="157" y1="250.45" x2="157" y2="253.85" stroke="#111" stroke-width="1.4"/>
<line x1="178.5" y1="250.45" x2="178.5" y2="253.85" stroke="#111" stroke-width="1.4"/>
<circle cx="67.5" cy="219.2" r="2.1" fill="#2d4573"/>
<circle cx="71.3" cy="220.6" r="2.1" fill="#2d4573"/>
<circle cx="70.5" cy="246.4" r="2.2" fill="#2d4573"/>
<circle cx="68.8" cy="247.8" r="2.2" fill="#2d4573"/>
<circle cx="72.2" cy="247.8" r="2.2" fill="#2d4573"/>
<circle cx="67.2" cy="249.2" r="2.2" fill="#2d4573"/>
<circle cx="73.8" cy="249.2" r="2.2" fill="#2d4573"/>
<circle cx="70.5" cy="249" r="2.2" fill="#2d4573"/>
<line x1="63.2" y1="241.8" x2="77.8" y2="241.8" stroke="#111" stroke-width="1.3"/>
<circle cx="87.8" cy="249.6" r="2.1" fill="#9c1b44"/>
<circle cx="90.2" cy="249" r="2.1" fill="#9c1b44"/>
<circle cx="92.3" cy="248.6" r="2.1" fill="#9c1b44"/>
<circle cx="94.5" cy="249" r="2.1" fill="#9c1b44"/>
<circle cx="96.7" cy="249.6" r="2.1" fill="#9c1b44"/>
<rect x="108.5" y="180.3" width="4.2" height="4.2" fill="#2d4573"/>
<rect x="111.9" y="184.7" width="4.2" height="4.2" fill="#2d4573"/>
<rect x="112.5" y="215.2" width="4.2" height="4.2" fill="#2d4573"/>
<rect x="112.5" y="222.9" width="4.2" height="4.2" fill="#2d4573"/>
<rect x="108.5" y="246.3" width="4.2" height="4.2" fill="#2d4573"/>
<rect x="111.1" y="245.5" width="4.2" height="4.2" fill="#2d4573"/>
<rect x="113.5" y="245.5" width="4.2" height="4.2" fill="#2d4573"/>
<rect x="115.7" y="246.3" width="4.2" height="4.2" fill="#2d4573"/>
<line x1="106.6" y1="225.6" x2="121.4" y2="225.6" stroke="#111" stroke-width="1.3"/>
<rect x="133.45" y="241.25" width="3.3" height="3.3" fill="none" stroke="#9c1b44" stroke-width="1.1"/>
<rect x="133.45" y="244.95" width="3.3" height="3.3" fill="none" stroke="#9c1b44" stroke-width="1.1"/>
<rect x="129.45" y="247.65" width="2.7" height="2.7" fill="none" stroke="#9c1b44" stroke-width="1.3"/>
<rect x="132.05" y="246.85" width="2.7" height="2.7" fill="none" stroke="#9c1b44" stroke-width="1.3"/>
<rect x="135.45" y="246.85" width="2.7" height="2.7" fill="none" stroke="#9c1b44" stroke-width="1.3"/>
<rect x="138.45" y="247.65" width="2.7" height="2.7" fill="none" stroke="#9c1b44" stroke-width="1.3"/>
<line x1="128.7" y1="248.1" x2="142.3" y2="248.1" stroke="#111" stroke-width="1.3"/>
<polygon points="154,180.23 156.3,184.37 151.7,184.37" fill="#2d4573"/>
<polygon points="157,178.53 159.3,182.67 154.7,182.67" fill="#2d4573"/>
<polygon points="157.2,185.13 159.5,189.27 154.9,189.27" fill="#2d4573"/>
<polygon points="156.4,198.53 158.7,202.67 154.1,202.67" fill="#2d4573"/>
<polygon points="159,197.53 161.3,201.67 156.7,201.67" fill="#2d4573"/>
<polygon points="154,217.93 156.3,222.07 151.7,222.07" fill="#2d4573"/>
<polygon points="157,219.33 159.3,223.47 154.7,223.47" fill="#2d4573"/>
<polygon points="156.7,247.36 158.3,250.24 155.1,250.24" fill="#2d4573"/>
<line x1="149.6" y1="204.3" x2="164.4" y2="204.3" stroke="#111" stroke-width="1.3"/>
<polygon points="178.5,193.78 180.28,197.23 176.72,197.23" fill="none" stroke="#9c1b44" stroke-width="1.1"/>
<polygon points="178.5,207.38 180.28,210.83 176.72,210.83" fill="none" stroke="#9c1b44" stroke-width="1.1"/>
<polygon points="178.2,243.08 179.97,246.53 176.42,246.53" fill="none" stroke="#9c1b44" stroke-width="1.1"/>
<polygon points="176.6,246.28 178.38,249.73 174.82,249.73" fill="none" stroke="#9c1b44" stroke-width="1.1"/>
<polygon points="180,246.28 181.78,249.73 178.22,249.73" fill="none" stroke="#9c1b44" stroke-width="1.1"/>
<polygon points="178.3,247.48 180.08,250.93 176.53,250.93" fill="none" stroke="#9c1b44" stroke-width="1.1"/>
<line x1="171.1" y1="234.8" x2="185.9" y2="234.8" stroke="#111" stroke-width="1.3"/>
<line x1="294.8" y1="250.35" x2="294.8" y2="253.75" stroke="#111" stroke-width="1.4"/>
<line x1="315" y1="250.35" x2="315" y2="253.75" stroke="#111" stroke-width="1.4"/>
<line x1="335.2" y1="250.35" x2="335.2" y2="253.75" stroke="#111" stroke-width="1.4"/>
<line x1="355.4" y1="250.35" x2="355.4" y2="253.75" stroke="#111" stroke-width="1.4"/>
<line x1="375.6" y1="250.35" x2="375.6" y2="253.75" stroke="#111" stroke-width="1.4"/>
<line x1="395.8" y1="250.35" x2="395.8" y2="253.75" stroke="#111" stroke-width="1.4"/>
<circle cx="294.8" cy="241.8" r="2.1" fill="#2d4573"/>
<circle cx="290.6" cy="249" r="2.2" fill="#2d4573"/>
<circle cx="293.2" cy="247.8" r="2.2" fill="#2d4573"/>
<circle cx="295.8" cy="247.6" r="2.2" fill="#2d4573"/>
<circle cx="298.6" cy="248.8" r="2.2" fill="#2d4573"/>
<circle cx="294.5" cy="249.2" r="2.2" fill="#2d4573"/>
<line x1="287.3" y1="247.9" x2="301.7" y2="247.9" stroke="#111" stroke-width="1.3"/>
<circle cx="310.4" cy="249.5" r="2.1" fill="#9c1b44"/>
<circle cx="312.8" cy="248.8" r="2.1" fill="#9c1b44"/>
<circle cx="315.2" cy="248.5" r="2.1" fill="#9c1b44"/>
<circle cx="317.6" cy="248.9" r="2.1" fill="#9c1b44"/>
<circle cx="319.6" cy="249.5" r="2.1" fill="#9c1b44"/>
<rect x="332.8" y="195.4" width="4.2" height="4.2" fill="#2d4573"/>
<rect x="332.8" y="211.2" width="4.2" height="4.2" fill="#2d4573"/>
<rect x="332.8" y="231.1" width="4.2" height="4.2" fill="#2d4573"/>
<rect x="332.8" y="240.6" width="4.2" height="4.2" fill="#2d4573"/>
<rect x="328.7" y="246.5" width="4.2" height="4.2" fill="#2d4573"/>
<rect x="331.3" y="245.3" width="4.2" height="4.2" fill="#2d4573"/>
<rect x="334.1" y="245.1" width="4.2" height="4.2" fill="#2d4573"/>
<rect x="336.7" y="246.3" width="4.2" height="4.2" fill="#2d4573"/>
<line x1="327.7" y1="235.5" x2="342.1" y2="235.5" stroke="#111" stroke-width="1.3"/>
<rect x="352.15" y="242.15" width="3.3" height="3.3" fill="none" stroke="#9c1b44" stroke-width="1.1"/>
<rect x="349.45" y="247.65" width="2.7" height="2.7" fill="none" stroke="#9c1b44" stroke-width="1.3"/>
<rect x="352.05" y="246.85" width="2.7" height="2.7" fill="none" stroke="#9c1b44" stroke-width="1.3"/>
<rect x="355.25" y="246.85" width="2.7" height="2.7" fill="none" stroke="#9c1b44" stroke-width="1.3"/>
<rect x="358.05" y="247.65" width="2.7" height="2.7" fill="none" stroke="#9c1b44" stroke-width="1.3"/>
<line x1="348.1" y1="248.1" x2="362.5" y2="248.1" stroke="#111" stroke-width="1.3"/>
<polygon points="372.5,177.33 374.8,181.47 370.2,181.47" fill="#2d4573"/>
<polygon points="375.6,181.03 377.9,185.17 373.3,185.17" fill="#2d4573"/>
<polygon points="375.6,190.73 377.9,194.87 373.3,194.87" fill="#2d4573"/>
<polygon points="375.6,202.73 377.9,206.87 373.3,206.87" fill="#2d4573"/>
<polygon points="372.8,244.83 375.1,248.97 370.5,248.97" fill="#2d4573"/>
<polygon points="376.9,242.73 379.2,246.87 374.6,246.87" fill="#2d4573"/>
<polygon points="375.6,247.07 377.3,250.13 373.9,250.13" fill="#2d4573"/>
<line x1="368.1" y1="217.8" x2="382.5" y2="217.8" stroke="#111" stroke-width="1.3"/>
<polygon points="395.6,199.57 397.28,202.84 393.93,202.84" fill="none" stroke="#9c1b44" stroke-width="1.1"/>
<polygon points="395.6,234.17 397.28,237.44 393.93,237.44" fill="none" stroke="#9c1b44" stroke-width="1.1"/>
<polygon points="393,246.38 394.68,249.64 391.32,249.64" fill="none" stroke="#9c1b44" stroke-width="1.1"/>
<polygon points="397.8,246.38 399.48,249.64 396.12,249.64" fill="none" stroke="#9c1b44" stroke-width="1.1"/>
<polygon points="395.4,247.17 397.07,250.44 393.72,250.44" fill="none" stroke="#9c1b44" stroke-width="1.1"/>
<polygon points="391.6,247.77 393.28,251.04 389.93,251.04" fill="none" stroke="#9c1b44" stroke-width="1.1"/>
<polygon points="399.2,247.77 400.88,251.04 397.52,251.04" fill="none" stroke="#9c1b44" stroke-width="1.1"/>
<line x1="388.2" y1="239.1" x2="402.8" y2="239.1" stroke="#111" stroke-width="1.3"/>
<line x1="71.3" y1="415.4" x2="71.3" y2="418.8" stroke="#111" stroke-width="1.4"/>
<line x1="94.4" y1="415.4" x2="94.4" y2="418.8" stroke="#111" stroke-width="1.4"/>
<line x1="117.5" y1="415.4" x2="117.5" y2="418.8" stroke="#111" stroke-width="1.4"/>
<line x1="139.6" y1="415.4" x2="139.6" y2="418.8" stroke="#111" stroke-width="1.4"/>
<circle cx="68" cy="402.6" r="2.1" fill="#629440"/>
<circle cx="71.6" cy="404" r="2.1" fill="#629440"/>
<circle cx="77" cy="403" r="2.1" fill="#629440"/>
<circle cx="65.6" cy="405.8" r="2.1" fill="#629440"/>
<circle cx="77" cy="407.6" r="2.1" fill="#629440"/>
<circle cx="71" cy="413.6" r="2.1" fill="#629440"/>
<circle cx="74" cy="405" r="2.1" fill="#629440"/>
<line x1="64.3" y1="406.3" x2="78.7" y2="406.3" stroke="#111" stroke-width="1.3"/>
<circle cx="89.5" cy="414" r="1.6" fill="none" stroke="#553a82" stroke-width="1"/>
<circle cx="92" cy="413.6" r="1.6" fill="none" stroke="#553a82" stroke-width="1"/>
<circle cx="93.3" cy="412.2" r="1.6" fill="none" stroke="#553a82" stroke-width="1"/>
<circle cx="95.5" cy="413.8" r="1.6" fill="none" stroke="#553a82" stroke-width="1"/>
<circle cx="98" cy="414" r="1.6" fill="none" stroke="#553a82" stroke-width="1"/>
<circle cx="100" cy="414.2" r="1.6" fill="none" stroke="#553a82" stroke-width="1"/>
<line x1="88" y1="414.4" x2="101.4" y2="414.4" stroke="#111" stroke-width="1.3"/>
<rect x="109.95" y="345.55" width="4.1" height="4.1" fill="#629440"/>
<rect x="115.65" y="346.55" width="4.1" height="4.1" fill="#629440"/>
<rect x="121.65" y="345.75" width="4.1" height="4.1" fill="#629440"/>
<rect x="109.95" y="352.15" width="4.1" height="4.1" fill="#629440"/>
<rect x="115.65" y="353.55" width="4.1" height="4.1" fill="#629440"/>
<rect x="121.65" y="351.75" width="4.1" height="4.1" fill="#629440"/>
<rect x="115.65" y="358.95" width="4.1" height="4.1" fill="#629440"/>
<line x1="110.2" y1="352.5" x2="125.4" y2="352.5" stroke="#111" stroke-width="1.3"/>
<rect x="138.7" y="391" width="3.2" height="3.2" fill="none" stroke="#553a82" stroke-width="1"/>
<rect x="133.3" y="402.9" width="3.2" height="3.2" fill="none" stroke="#553a82" stroke-width="1"/>
<rect x="138.7" y="405.1" width="3.2" height="3.2" fill="none" stroke="#553a82" stroke-width="1"/>
<rect x="132.8" y="411.6" width="3.2" height="3.2" fill="none" stroke="#553a82" stroke-width="1"/>
<rect x="136.8" y="411.8" width="3.2" height="3.2" fill="none" stroke="#553a82" stroke-width="1"/>
<rect x="140.2" y="411.4" width="3.2" height="3.2" fill="none" stroke="#553a82" stroke-width="1"/>
<rect x="143.6" y="411.8" width="3.2" height="3.2" fill="none" stroke="#553a82" stroke-width="1"/>
<line x1="134" y1="408.5" x2="148" y2="408.5" stroke="#111" stroke-width="1.3"/>
<line x1="294" y1="415.4" x2="294" y2="418.8" stroke="#111" stroke-width="1.4"/>
<line x1="312.9" y1="415.4" x2="312.9" y2="418.8" stroke="#111" stroke-width="1.4"/>
<line x1="331.8" y1="415.4" x2="331.8" y2="418.8" stroke="#111" stroke-width="1.4"/>
<line x1="350.6" y1="415.4" x2="350.6" y2="418.8" stroke="#111" stroke-width="1.4"/>
<line x1="370.2" y1="415.4" x2="370.2" y2="418.8" stroke="#111" stroke-width="1.4"/>
<line x1="389.3" y1="415.4" x2="389.3" y2="418.8" stroke="#111" stroke-width="1.4"/>
<circle cx="290" cy="414" r="2.1" fill="#629440"/>
<circle cx="292.6" cy="414" r="2.1" fill="#629440"/>
<circle cx="295.2" cy="414" r="2.1" fill="#629440"/>
<circle cx="297" cy="414" r="2.1" fill="#629440"/>
<rect x="306.8" y="412" width="4" height="4" fill="#e3a02d"/>
<rect x="309.6" y="412" width="4" height="4" fill="#e3a02d"/>
<rect x="312.4" y="412" width="4" height="4" fill="#e3a02d"/>
<rect x="314.8" y="412" width="4" height="4" fill="#e3a02d"/>
<circle cx="328" cy="414" r="2.3" fill="#553a82"/>
<circle cx="330.6" cy="414" r="2.3" fill="#553a82"/>
<circle cx="333.2" cy="414" r="2.3" fill="#553a82"/>
<circle cx="335.6" cy="414" r="2.3" fill="#553a82"/>
<rect x="345.9" y="344.5" width="4.4" height="4.4" fill="#629440"/>
<rect x="349.3" y="349.7" width="4.4" height="4.4" fill="#629440"/>
<rect x="345.9" y="357.4" width="4.4" height="4.4" fill="#629440"/>
<rect x="352" y="358.2" width="4.4" height="4.4" fill="#629440"/>
<rect x="349.3" y="363.6" width="4.4" height="4.4" fill="#629440"/>
<rect x="349.3" y="372" width="4.4" height="4.4" fill="#629440"/>
<rect x="349.3" y="388.6" width="4.4" height="4.4" fill="#629440"/>
<line x1="345.1" y1="364" x2="356.9" y2="364" stroke="#111" stroke-width="1.3"/>
<rect x="368.2" y="349" width="4.4" height="4.4" fill="#e3a02d"/>
<rect x="371.6" y="354.3" width="4.4" height="4.4" fill="#e3a02d"/>
<rect x="365.1" y="356.3" width="4.4" height="4.4" fill="#e3a02d"/>
<rect x="368.2" y="357" width="4.4" height="4.4" fill="#e3a02d"/>
<rect x="368.2" y="363.6" width="4.4" height="4.4" fill="#e3a02d"/>
<rect x="368.2" y="376.3" width="4.4" height="4.4" fill="#e3a02d"/>
<rect x="368.2" y="410.1" width="4.4" height="4.4" fill="#e3a02d"/>
<line x1="364" y1="369.2" x2="376.4" y2="369.2" stroke="#111" stroke-width="1.3"/>
<circle cx="385" cy="414" r="2.3" fill="#553a82"/>
<circle cx="387.8" cy="414" r="2.3" fill="#553a82"/>
<circle cx="390.6" cy="414" r="2.3" fill="#553a82"/>
<circle cx="393.2" cy="414" r="2.3" fill="#553a82"/>
</svg>
</body></html>
